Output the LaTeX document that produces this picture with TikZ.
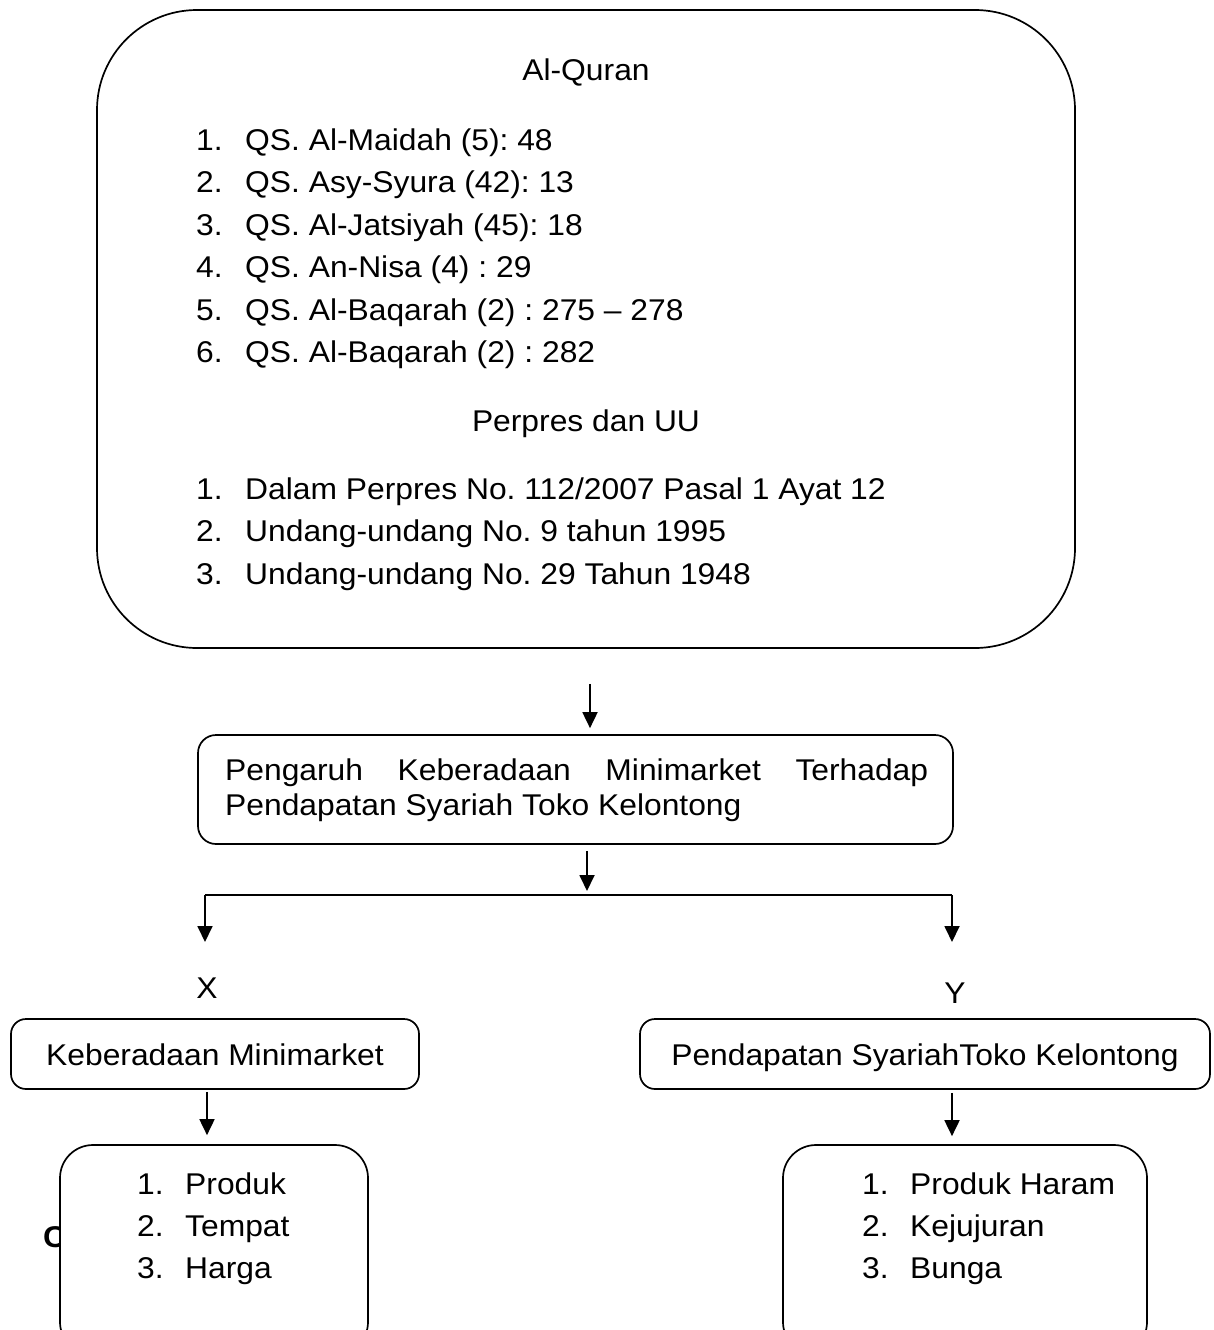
\documentclass[tikz,border=0pt]{standalone}
\usepackage{fontspec}
\setmainfont{Liberation Sans}[FakeStretch=1.06]
\usetikzlibrary{arrows.meta}
\newcommand\fs{\fontsize{30}{35}\selectfont\frenchspacing}
\tikzset{
  box/.style={draw, line width=1.7pt, inner sep=0pt, fill=white},
  txt/.style={anchor=base west, inner sep=0pt, font=\fs},
  ctxt/.style={anchor=base, inner sep=0pt, font=\fs},
  arr/.style={-{Triangle[width=15pt,length=16pt]}, line width=1.8pt},
  ln/.style={line width=1.8pt}
}
\begin{document}
\frenchspacing
\begin{tikzpicture}[x=1pt,y=-1pt]
\useasboundingbox (0,0) rectangle (1214,1330);
\clip (0,0) rectangle (1214,1330);
\fill[white] (0,0) rectangle (1214,1330);

% big box
\node[box, rounded corners=100pt, minimum width=978pt, minimum height=638pt] (big) at (586,329) {};
\node[ctxt] (tq) at (586,81) {Al-Quran};
\node[txt] (q1n) at (196,150) {1.};   \node[txt] (q1) at (245,150) {QS. Al-Maidah (5): 48};
\node[txt] (q2n) at (196,192.5) {2.}; \node[txt] (q2) at (245,192.5) {QS. Asy-Syura (42): 13};
\node[txt] (q3n) at (196,235) {3.};   \node[txt] (q3) at (245,235) {QS. Al-Jatsiyah (45): 18};
\node[txt] (q4n) at (196,277.5) {4.}; \node[txt] (q4) at (245,277.5) {QS. An-Nisa (4) : 29};
\node[txt] (q5n) at (196,320) {5.};   \node[txt] (q5) at (245,320) {QS. Al-Baqarah (2) : 275 – 278};
\node[txt] (q6n) at (196,362.5) {6.}; \node[txt] (q6) at (245,362.5) {QS. Al-Baqarah (2) : 282};
\node[ctxt] (tp) at (586,431) {Perpres dan UU};
\node[txt] (p1n) at (196,499) {1.};   \node[txt] (p1) at (245,499) {Dalam Perpres No. 112/2007 Pasal 1 Ayat 12};
\node[txt] (p2n) at (196,541.5) {2.}; \node[txt] (p2) at (245,541.5) {Undang-undang No. 9 tahun 1995};
\node[txt] (p3n) at (196,584) {3.};   \node[txt] (p3) at (245,584) {Undang-undang No. 29 Tahun 1948};

% middle box
\node[box, rounded corners=18pt, minimum width=755pt, minimum height=109pt] (mid) at (575.5,789.5) {};
\node[txt] (m1) at (225,780) {\hbox to 703pt{Pengaruh\hfill Keberadaan\hfill Minimarket\hfill Terhadap}};
\node[txt] (m2) at (225,815) {Pendapatan Syariah Toko Kelontong};

% arrows and split line
\draw[arr] ([xshift=4pt,yshift=-35pt]big.south) -- ([xshift=14.5pt,yshift=6pt]mid.north);
\coordinate (j) at (587,891);
\draw[arr] ([xshift=11.5pt,yshift=-6pt]mid.south) -- (j);
\coordinate (hl) at (205,895);
\coordinate (hr) at (952,895);
\draw[ln] (hl) -- (hr);
\coordinate (xa) at (205,942);
\coordinate (ya) at (952,942);
\draw[arr] (hl) -- (xa);
\draw[arr] (hr) -- (ya);

\node[ctxt] (lx) at (207,998) {X};
\node[ctxt] (ly) at (955,1003) {Y};

% X / Y boxes
\node[box, rounded corners=15pt, minimum width=408pt, minimum height=70pt] (bx) at (215,1054) {};
\node[ctxt] (tbx) at (215,1065) {Keberadaan Minimarket};
\node[box, rounded corners=15pt, minimum width=570pt, minimum height=70pt] (by) at (925,1054) {};
\node[ctxt] (tby) at (925,1065) {Pendapatan SyariahToko Kelontong};

% partly hidden letter
\node[txt, font=\fs\bfseries] (cc) at (43,1247) {C};

% bottom boxes
\node[box, rounded corners=33pt, minimum width=308pt, minimum height=210pt] (bl) at (214,1250) {};
\node[txt] (l1n) at (137,1194) {1.}; \node[txt] (l1) at (185,1194) {Produk};
\node[txt] (l2n) at (137,1236) {2.}; \node[txt] (l2) at (185,1236) {Tempat};
\node[txt] (l3n) at (137,1278) {3.}; \node[txt] (l3) at (185,1278) {Harga};

\node[box, rounded corners=33pt, minimum width=364pt, minimum height=210pt] (br) at (965,1250) {};
\node[txt] (r1n) at (862,1194) {1.}; \node[txt] (r1) at (910,1194) {Produk Haram};
\node[txt] (r2n) at (862,1236) {2.}; \node[txt] (r2) at (910,1236) {Kejujuran};
\node[txt] (r3n) at (862,1278) {3.}; \node[txt] (r3) at (910,1278) {Bunga};

\draw[arr] ([xshift=-8pt,yshift=-2pt]bx.south) -- ([xshift=-7pt,yshift=9pt]bl.north);
\draw[arr] ([xshift=27pt,yshift=-3pt]by.south) -- ([xshift=-13pt,yshift=8pt]br.north);
\end{tikzpicture}
\end{document}
